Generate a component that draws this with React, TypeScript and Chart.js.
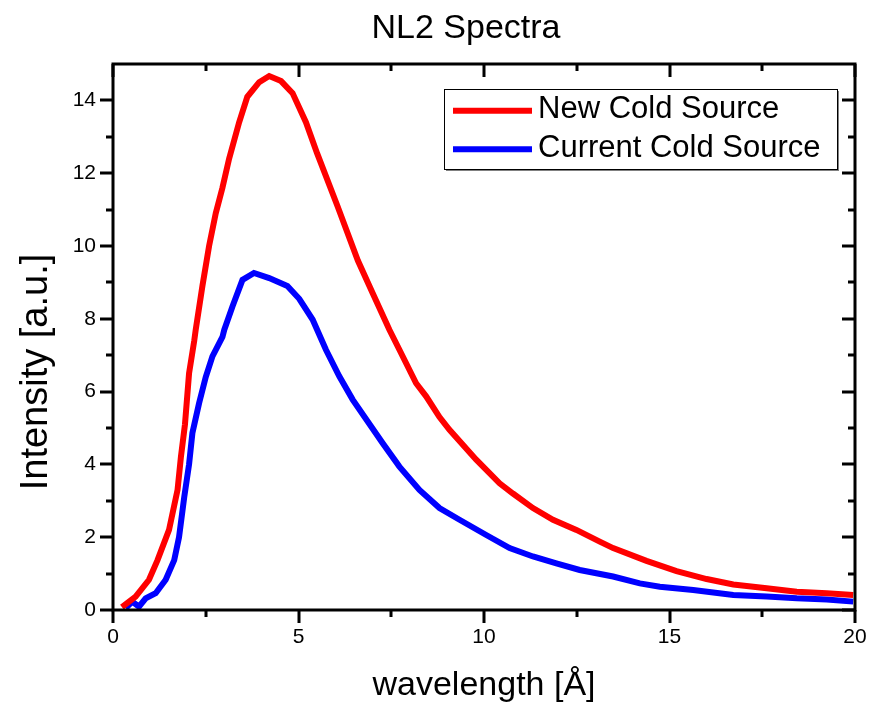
import React, { useEffect, useRef } from "react";
import { Chart, registerables } from "chart.js";

Chart.register(...registerables);

const chartTitle = "NL2 Spectra";
const xAxisTitle = "wavelength [Å]";
const yAxisTitle = "Intensity [a.u.]";

const seriesNames = ["New Cold Source", "Current Cold Source"];
const seriesColors = ["#ff0000", "#0000ff"];

const newX = [0.24, 0.61, 0.97, 1.2, 1.51, 1.74, 1.83, 1.94, 2.05, 2.19, 2.23, 2.41, 2.59, 2.77, 2.95, 3.13, 3.4, 3.62, 3.94, 4.21, 4.53, 4.84, 5.2, 5.5, 6.05, 6.6, 7.0, 7.45, 7.72, 8.17, 8.44, 8.8, 9.07, 9.79, 10.42, 10.78, 11.32, 11.86, 12.49, 13.12, 13.48, 14.38, 15.19, 16.0, 16.72, 17.62, 18.43, 19.24, 19.95];
const newY = [0.08, 0.37, 0.83, 1.37, 2.2, 3.3, 4.2, 5.1, 6.5, 7.4, 7.7, 8.9, 10.0, 10.9, 11.6, 12.4, 13.4, 14.1, 14.5, 14.67, 14.53, 14.2, 13.4, 12.55, 11.1, 9.6, 8.7, 7.7, 7.15, 6.23, 5.87, 5.3, 4.95, 4.13, 3.48, 3.2, 2.8, 2.48, 2.2, 1.88, 1.7, 1.35, 1.07, 0.85, 0.7, 0.6, 0.5, 0.46, 0.41];

const curX = [0.34, 0.52, 0.7, 0.88, 1.15, 1.42, 1.65, 1.78, 1.92, 2.05, 2.14, 2.32, 2.5, 2.68, 2.95, 3.0, 3.22, 3.49, 3.8, 4.21, 4.7, 5.02, 5.38, 5.74, 6.1, 6.46, 7.27, 7.72, 8.26, 8.8, 9.34, 10.06, 10.69, 11.32, 11.95, 12.58, 13.48, 14.2, 14.74, 15.64, 16.72, 17.62, 18.43, 19.24, 19.95];
const curY = [0.05, 0.23, 0.09, 0.32, 0.46, 0.83, 1.37, 2.0, 3.1, 4.0, 4.86, 5.68, 6.4, 6.97, 7.5, 7.7, 8.34, 9.07, 9.26, 9.12, 8.9, 8.55, 7.98, 7.15, 6.42, 5.78, 4.58, 3.94, 3.3, 2.8, 2.48, 2.06, 1.7, 1.47, 1.28, 1.1, 0.92, 0.73, 0.64, 0.55, 0.41, 0.37, 0.32, 0.29, 0.23];

const xMajorTicks = [0, 5, 10, 15, 20];
const xMinorTicks = [2.5, 7.5, 12.5, 17.5];
const yMajorTicks = [0, 2, 4, 6, 8, 10, 12, 14];
const yMinorTicks = [1, 3, 5, 7, 9, 11, 13];

const FONT = "'Liberation Sans', Arial, Helvetica, sans-serif";

const framePlugin = {
  id: "frame",
  afterDraw(chart: any) {
    const ctx = chart.ctx as CanvasRenderingContext2D;
    const { left, right, top, bottom } = chart.chartArea;
    const xs = chart.scales.x;
    const ys = chart.scales.y;
    ctx.save();
    ctx.strokeStyle = "#000";
    ctx.lineWidth = 3;
    ctx.lineCap = "butt";
    ctx.strokeRect(left, top, right - left, bottom - top);
    const major = 13;
    const minor = 7;
    const drawX = (v: number, len: number) => {
      const px = Math.round(xs.getPixelForValue(v));
      ctx.beginPath();
      ctx.moveTo(px, bottom);
      ctx.lineTo(px, bottom + len);
      ctx.moveTo(px, top);
      ctx.lineTo(px, top + len);
      ctx.stroke();
    };
    const drawY = (v: number, len: number) => {
      const py = Math.round(ys.getPixelForValue(v));
      ctx.beginPath();
      ctx.moveTo(left, py);
      ctx.lineTo(left - len, py);
      ctx.moveTo(right, py);
      ctx.lineTo(right - len, py);
      ctx.stroke();
    };
    xMajorTicks.forEach((v) => drawX(v, major));
    xMinorTicks.forEach((v) => drawX(v, minor));
    yMajorTicks.forEach((v) => drawY(v, major));
    yMinorTicks.forEach((v) => drawY(v, minor));

    // titles
    ctx.fillStyle = "#000";
    ctx.textAlign = "center";
    ctx.textBaseline = "alphabetic";
    ctx.font = `34px ${FONT}`;
    ctx.fillText(chartTitle, 466, 38);
    ctx.fillText(xAxisTitle, 484, 695);
    ctx.save();
    ctx.font = `38px ${FONT}`;
    ctx.translate(47, 372);
    ctx.rotate(-Math.PI / 2);
    ctx.fillText(yAxisTitle, 0, 0);
    ctx.restore();

    // legend
    const bx = 444, by = 89, bw = 393, bh = 80;
    ctx.fillStyle = "#fff";
    ctx.fillRect(bx, by, bw, bh);
    ctx.fillStyle = "#808080";
    ctx.fillRect(bx + 2, by + bh, bw, 2);
    ctx.fillRect(bx + bw, by + 2, 2, bh);
    ctx.lineWidth = 1;
    ctx.strokeStyle = "#000";
    ctx.strokeRect(bx + 0.5, by + 0.5, bw, bh);
    const rows = [110.7, 149.3];
    chart.data.datasets.forEach((ds: any, i: number) => {
      ctx.strokeStyle = ds.borderColor;
      ctx.lineWidth = 6;
      ctx.beginPath();
      ctx.moveTo(453, rows[i]);
      ctx.lineTo(532, rows[i]);
      ctx.stroke();
      ctx.fillStyle = "#000";
      ctx.textAlign = "left";
      ctx.textBaseline = "middle";
      ctx.font = `31px ${FONT}`;
      ctx.fillText(ds.label, 538, rows[i] - 1);
    });
    ctx.restore();
  },
};

export default function App() {
  const ref = useRef<HTMLCanvasElement>(null);
  useEffect(() => {
    if (!ref.current) return;
    const chart = new Chart(ref.current, {
      type: "line",
      data: {
        datasets: [
          {
            label: seriesNames[0],
            data: newX.map((x, i) => ({ x, y: newY[i] })),
            borderColor: seriesColors[0],
            backgroundColor: seriesColors[0],
            borderWidth: 6,
            pointRadius: 0,
            tension: 0,
            fill: false,
          },
          {
            label: seriesNames[1],
            data: curX.map((x, i) => ({ x, y: curY[i] })),
            borderColor: seriesColors[1],
            backgroundColor: seriesColors[1],
            borderWidth: 6,
            pointRadius: 0,
            tension: 0,
            fill: false,
          },
        ],
      },
      options: {
        animation: false,
        responsive: false,
        devicePixelRatio: 1,
        layout: { padding: { top: 64, right: 28, left: 0, bottom: 0 } },
        plugins: { legend: { display: false }, title: { display: false }, tooltip: { enabled: false } },
        scales: {
          x: {
            type: "linear",
            min: 0,
            max: 20,
            afterFit: (s: any) => { s.height = 95; },
            afterBuildTicks: (s: any) => { s.ticks = xMajorTicks.map((v) => ({ value: v })); },
            grid: { display: true, drawOnChartArea: false, drawTicks: true, tickLength: 13, color: "rgba(0,0,0,0)" },
            border: { display: false },
            ticks: { color: "#000", font: { family: FONT, size: 21 }, padding: 2, maxRotation: 0 },
          },
          y: {
            type: "linear",
            min: 0,
            max: 15,
            afterFit: (s: any) => { s.width = 113; },
            afterBuildTicks: (s: any) => { s.ticks = yMajorTicks.map((v) => ({ value: v })); },
            grid: { display: true, drawOnChartArea: false, drawTicks: true, tickLength: 13, color: "rgba(0,0,0,0)" },
            border: { display: false },
            ticks: { color: "#000", font: { family: FONT, size: 21 }, padding: 4 },
          },
        },
      },
      plugins: [framePlugin],
    });
    return () => chart.destroy();
  }, []);
  return (
    <div style={{ position: "absolute", left: 0, top: 0, width: 883, height: 705, background: "#fff" }}>
      <canvas ref={ref} width={883} height={705} />
    </div>
  );
}
